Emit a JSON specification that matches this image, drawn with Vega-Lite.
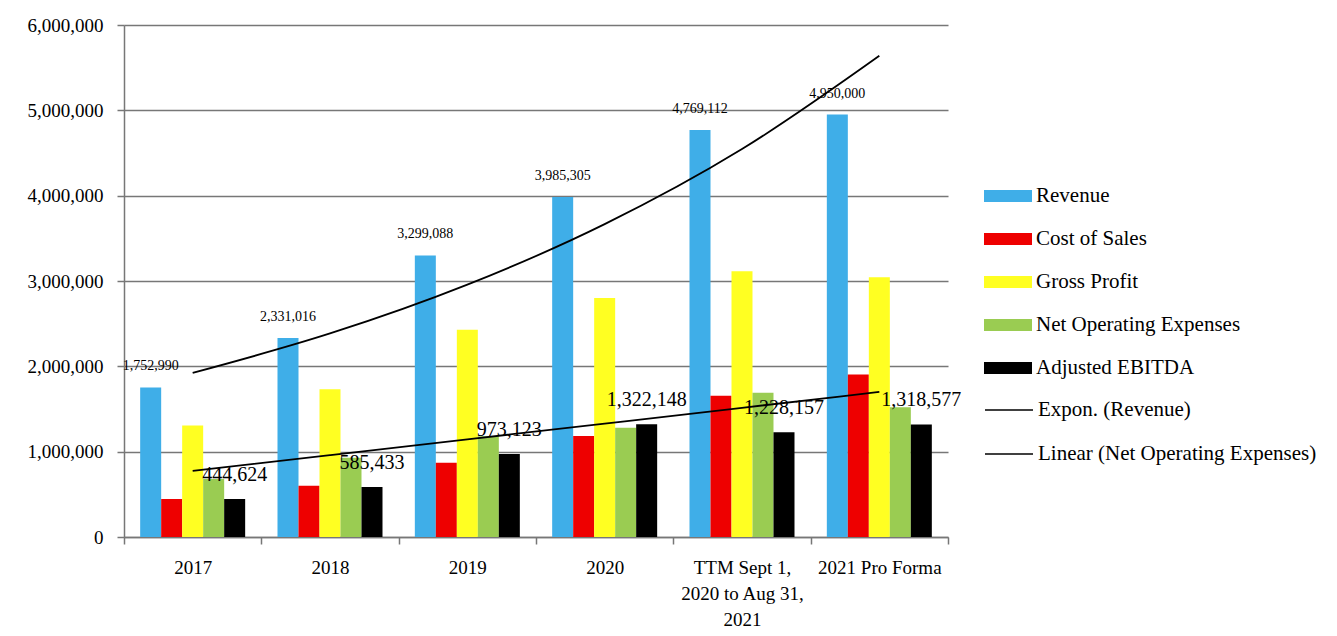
{
  "$schema": "https://vega.github.io/schema/vega-lite/v6.json",
  "autosize": {"type": "none"},
  "width": 824,
  "height": 512,
  "padding": {"left": 124, "top": 25, "right": 389, "bottom": 99},
  "background": "white",
  "config": {
    "font": "Liberation Serif",
    "view": {"stroke": null},
    "axis": {"labelFont": "Liberation Serif", "labelColor": "#000000"},
    "legend": {"labelFont": "Liberation Serif", "labelColor": "#000000"}
  },
  "datasets": {
    "bars": [
      {"period": "2017", "series": "Revenue", "value": 1752990},
      {"period": "2018", "series": "Revenue", "value": 2331016},
      {"period": "2019", "series": "Revenue", "value": 3299088},
      {"period": "2020", "series": "Revenue", "value": 3985305},
      {"period": "TTM Sept 1, 2020 to Aug 31, 2021", "series": "Revenue", "value": 4769112},
      {"period": "2021 Pro Forma", "series": "Revenue", "value": 4950000},
      {"period": "2017", "series": "Cost of Sales", "value": 445000},
      {"period": "2018", "series": "Cost of Sales", "value": 600000},
      {"period": "2019", "series": "Cost of Sales", "value": 870000},
      {"period": "2020", "series": "Cost of Sales", "value": 1185000},
      {"period": "TTM Sept 1, 2020 to Aug 31, 2021", "series": "Cost of Sales", "value": 1655000},
      {"period": "2021 Pro Forma", "series": "Cost of Sales", "value": 1905000},
      {"period": "2017", "series": "Gross Profit", "value": 1308000},
      {"period": "2018", "series": "Gross Profit", "value": 1731000},
      {"period": "2019", "series": "Gross Profit", "value": 2429000},
      {"period": "2020", "series": "Gross Profit", "value": 2800000},
      {"period": "TTM Sept 1, 2020 to Aug 31, 2021", "series": "Gross Profit", "value": 3114000},
      {"period": "2021 Pro Forma", "series": "Gross Profit", "value": 3045000},
      {"period": "2017", "series": "Net Operating Expenses", "value": 680000},
      {"period": "2018", "series": "Net Operating Expenses", "value": 930000},
      {"period": "2019", "series": "Net Operating Expenses", "value": 1180000},
      {"period": "2020", "series": "Net Operating Expenses", "value": 1280000},
      {"period": "TTM Sept 1, 2020 to Aug 31, 2021", "series": "Net Operating Expenses", "value": 1690000},
      {"period": "2021 Pro Forma", "series": "Net Operating Expenses", "value": 1520000},
      {"period": "2017", "series": "Adjusted EBITDA", "value": 444624},
      {"period": "2018", "series": "Adjusted EBITDA", "value": 585433},
      {"period": "2019", "series": "Adjusted EBITDA", "value": 973123},
      {"period": "2020", "series": "Adjusted EBITDA", "value": 1322148},
      {"period": "TTM Sept 1, 2020 to Aug 31, 2021", "series": "Adjusted EBITDA", "value": 1228157},
      {"period": "2021 Pro Forma", "series": "Adjusted EBITDA", "value": 1318577}
    ],
    "trends": [
      {"period": "2017", "trend": "Expon. (Revenue)", "value": 1923000},
      {"period": "2018", "trend": "Expon. (Revenue)", "value": 2385000},
      {"period": "2019", "trend": "Expon. (Revenue)", "value": 2957000},
      {"period": "2020", "trend": "Expon. (Revenue)", "value": 3666000},
      {"period": "TTM Sept 1, 2020 to Aug 31, 2021", "trend": "Expon. (Revenue)", "value": 4546000},
      {"period": "2021 Pro Forma", "trend": "Expon. (Revenue)", "value": 5639000},
      {"period": "2017", "trend": "Linear (Net Operating Expenses)", "value": 774000},
      {"period": "2018", "trend": "Linear (Net Operating Expenses)", "value": 959000},
      {"period": "2019", "trend": "Linear (Net Operating Expenses)", "value": 1144000},
      {"period": "2020", "trend": "Linear (Net Operating Expenses)", "value": 1329000},
      {"period": "TTM Sept 1, 2020 to Aug 31, 2021", "trend": "Linear (Net Operating Expenses)", "value": 1514000},
      {"period": "2021 Pro Forma", "trend": "Linear (Net Operating Expenses)", "value": 1700000}
    ]
  },
  "encoding": {
    "x": {
      "field": "period",
      "type": "nominal",
      "scale": {
        "domain": ["2017", "2018", "2019", "2020", "TTM Sept 1, 2020 to Aug 31, 2021", "2021 Pro Forma"],
        "paddingInner": 0,
        "paddingOuter": 0
      },
      "axis": {
        "title": null,
        "labelAngle": 0,
        "labelFontSize": 19,
        "labelLineHeight": 26,
        "labelPadding": 14,
        "labelExpr": "datum.value == 'TTM Sept 1, 2020 to Aug 31, 2021' ? ['TTM Sept 1,', '2020 to Aug 31,', '2021'] : datum.value",
        "labelLimit": 300,
        "tickBand": "extent",
        "tickSize": 7,
        "tickColor": "#777777",
        "tickWidth": 1.5,
        "domainColor": "#777777",
        "domainWidth": 1.5,
        "grid": false
      }
    },
    "y": {
      "field": "value",
      "type": "quantitative",
      "scale": {"domain": [0, 6000000], "nice": false, "zero": true},
      "axis": {
        "title": null,
        "values": [0, 1000000, 2000000, 3000000, 4000000, 5000000, 6000000],
        "format": ",d",
        "labelFontSize": 19,
        "labelPadding": 14,
        "tickSize": 7,
        "tickColor": "#777777",
        "tickWidth": 1.5,
        "domainColor": "#777777",
        "domainWidth": 1.5,
        "grid": true,
        "gridColor": "#777777",
        "gridWidth": 1.5
      }
    }
  },
  "layer": [
    {
      "data": {"name": "bars"},
      "mark": {"type": "bar"},
      "encoding": {
        "xOffset": {
          "field": "series",
          "type": "nominal",
          "scale": {
            "domain": ["Revenue", "Cost of Sales", "Gross Profit", "Net Operating Expenses", "Adjusted EBITDA"],
            "paddingInner": 0,
            "paddingOuter": 0.77
          }
        },
        "fill": {
          "field": "series",
          "type": "nominal",
          "scale": {
            "domain": ["Revenue", "Cost of Sales", "Gross Profit", "Net Operating Expenses", "Adjusted EBITDA"],
            "range": ["#3FAEE8", "#EE0000", "#FFFF22", "#9ACC52", "#000000"]
          },
          "legend": {
            "title": null,
            "orient": "none",
            "legendX": 860,
            "legendY": 147,
            "symbolType": "M-1,-0.25H1V0.25H-1Z",
            "symbolSize": 2304,
            "symbolStrokeWidth": 0,
            "labelFontSize": 21,
            "labelLimit": 400,
            "labelOffset": 4,
            "rowPadding": 9
          }
        }
      }
    },
    {
      "data": {"name": "trends"},
      "mark": {"type": "line", "interpolate": "monotone", "strokeWidth": 1.8},
      "encoding": {
        "stroke": {
          "field": "trend",
          "type": "nominal",
          "scale": {
            "domain": ["Expon. (Revenue)", "Linear (Net Operating Expenses)"],
            "range": ["#000000", "#000000"]
          },
          "legend": {
            "title": null,
            "orient": "none",
            "legendX": 860,
            "legendY": 360,
            "symbolType": "stroke",
            "symbolSize": 2304,
            "symbolStrokeWidth": 1.5,
            "labelFontSize": 21,
            "labelLimit": 400,
            "labelOffset": 4,
            "rowPadding": 9
          }
        }
      }
    },
    {
      "data": {"name": "bars"},
      "transform": [{"filter": "datum.series == 'Revenue'"}],
      "mark": {"type": "text", "baseline": "middle", "align": "center", "dy": -21, "fontSize": 14, "font": "Liberation Serif", "color": "#000000"},
      "encoding": {
        "xOffset": {"field": "series", "type": "nominal"},
        "text": {"field": "value", "type": "quantitative", "format": ",d"}
      }
    },
    {
      "data": {"name": "bars"},
      "transform": [{"filter": "datum.series == 'Adjusted EBITDA'"}],
      "mark": {"type": "text", "baseline": "middle", "align": "center", "dy": -24, "fontSize": 20, "font": "Liberation Serif", "color": "#000000"},
      "encoding": {
        "xOffset": {"field": "series", "type": "nominal"},
        "text": {"field": "value", "type": "quantitative", "format": ",d"}
      }
    }
  ]
}
